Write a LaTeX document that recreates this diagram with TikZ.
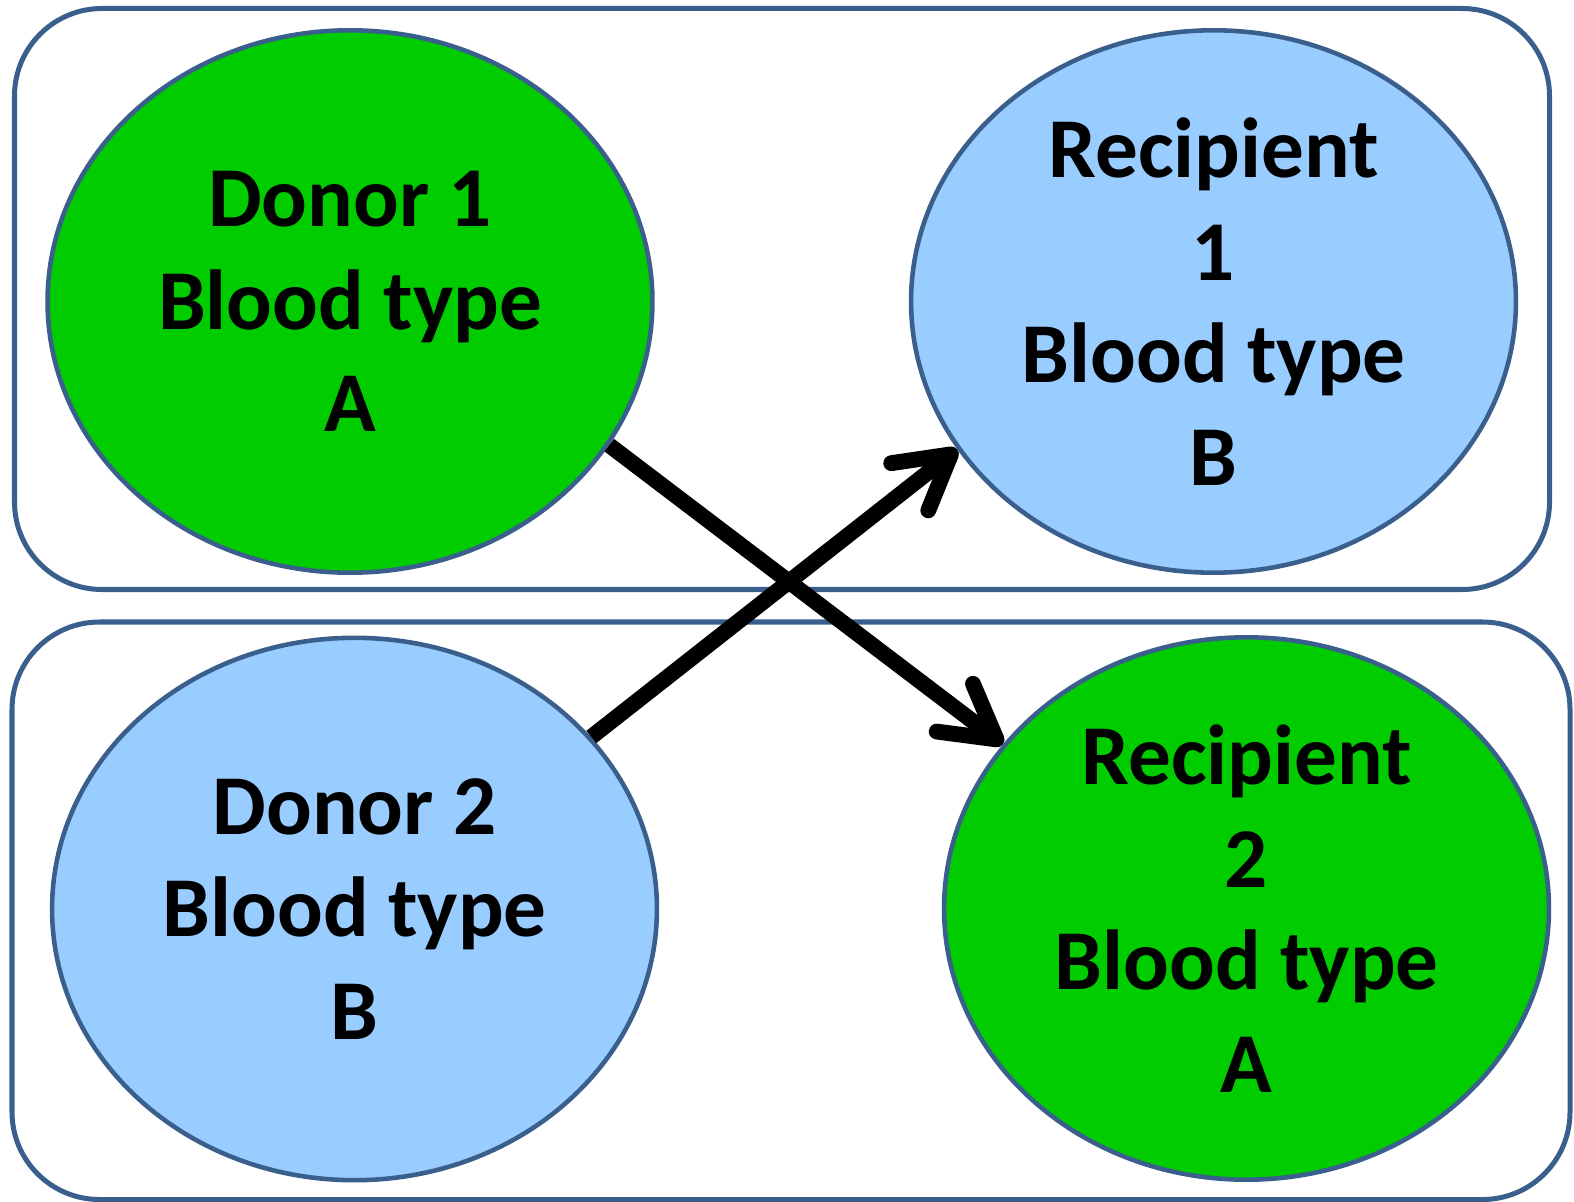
\documentclass[tikz,border=0pt]{standalone}
\usepackage{fontspec}
\setmainfont{Carlito}
\usetikzlibrary{shapes.geometric,arrows.meta}
\definecolor{bord}{HTML}{3B5F8C}
\definecolor{grn}{HTML}{00CC00}
\definecolor{lblue}{HTML}{99CCFF}
\begin{document}
\begin{tikzpicture}[x=0.02cm,y=-0.02cm,
  grp/.style={draw=bord,line width=2.85pt,rounded corners=1.75cm},
  blob/.style={ellipse,draw=bord,line width=2.6pt,minimum width=12.1cm,minimum height=10.85cm,inner sep=0pt,align=center,font=\fontsize{48.5}{58.5}\selectfont\bfseries},
  xfer/.style={line width=9pt,-{Straight Barb[round,length=1.05cm,width=1.2cm]}}]
\useasboundingbox (0,0) rectangle (1574,1202);
\draw[grp] (14.5,8.5) rectangle (1549.5,589.5);
\draw[grp] (12,622) rectangle (1570,1199.5);
\node[blob,fill=grn] (d1) at (350,301.5) {Donor 1\\Blood type\\A};
\node[blob,fill=lblue] (r1) at (1213.5,301.5) {Recipient\\1\\Blood type\\B};
\node[blob,fill=lblue] (d2) at (354.5,909) {Donor 2\\Blood type\\B};
\node[blob,fill=grn] (r2) at (1246.5,908.5) {Recipient\\2\\Blood type\\A};
\draw[xfer] (d1.-29.7) -- (r2.146.4);
\draw[xfer] (d2.36.7) -- (r1.-150.9);
\end{tikzpicture}
\end{document}
